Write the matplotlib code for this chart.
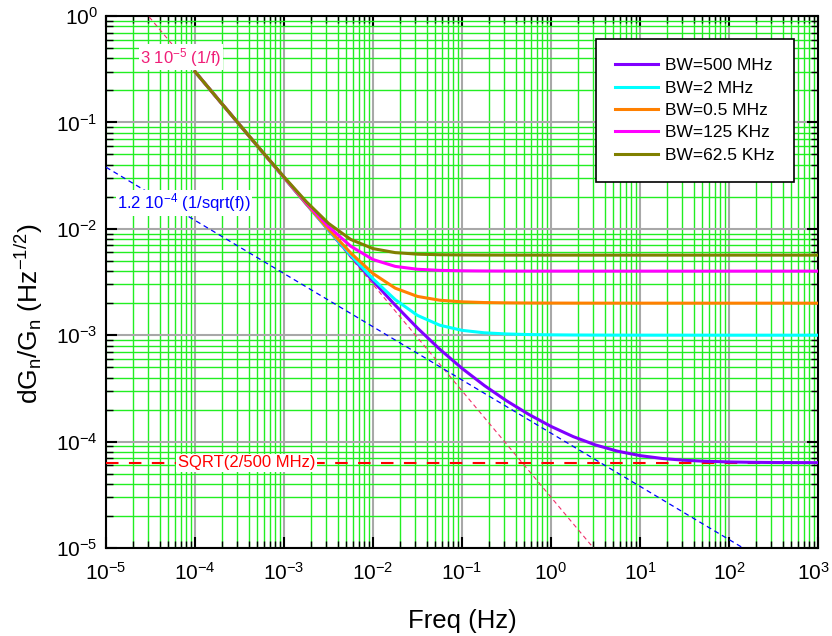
import matplotlib
matplotlib.use("Agg")
import matplotlib.pyplot as plt
from matplotlib.ticker import LogLocator, NullFormatter

plt.rcParams['font.family'] = ['Liberation Sans', 'DejaVu Sans']
plt.rcParams['mathtext.fontset'] = 'custom'
plt.rcParams['mathtext.rm'] = 'Liberation Sans'
plt.rcParams['mathtext.it'] = 'Liberation Sans'
plt.rcParams['mathtext.default'] = 'regular'

# ---- data ----
freq = [1e-4, 1.778e-4, 3.162e-4, 5.623e-4, 1e-3, 1.778e-3, 3.162e-3, 5.623e-3,
        1e-2, 1.778e-2, 3.162e-2, 5.623e-2, 1e-1, 1.778e-1, 3.162e-1, 5.623e-1,
        1e0, 1.778e0, 3.162e0, 5.623e0, 1e1, 1.778e1, 3.162e1, 5.623e1,
        1e2, 1.778e2, 3.162e2, 5.623e2, 1e3]

bw_500mhz = [0.30024, 0.16894, 0.09511, 0.053588, 0.030239, 0.017109, 0.0097241, 0.0055700,
             0.0032317, 0.0019131, 0.0011659, 7.380e-4, 4.879e-4, 3.3684e-4, 2.4195e-4, 1.8016e-4,
             1.3892e-4, 1.1129e-4, 9.297e-5, 8.117e-5, 7.382e-5, 6.937e-5, 6.675e-5, 6.524e-5,
             6.437e-5, 6.388e-5, 6.360e-5, 6.345e-5, 6.336e-5]
bw_2mhz = [0.30024, 0.16894, 0.095113, 0.053597, 0.030256, 0.017138, 0.0097752, 0.0056587,
           0.0033823, 0.0021578, 0.0015347, 0.0012412, 0.0011109, 0.0010533, 0.0010269, 0.0010141,
           0.0010076, 0.0010042, 0.0010023, 0.0010013, 0.0010007, 0.0010004, 0.0010002, 0.0010001,
           0.0010001, 0.0010000, 0.0010000, 0.0010000, 0.0010000]
bw_05mhz = [0.30025, 0.16895, 0.095129, 0.053625, 0.030305, 0.017225, 0.0099274, 0.0059178,
            0.0038000, 0.0027669, 0.0023142, 0.0021309, 0.0020577, 0.0020272, 0.0020136, 0.0020071,
            0.0020038, 0.0020021, 0.0020011, 0.0020006, 0.0020004, 0.0020002, 0.0020001, 0.0020001,
            0.0020000, 0.0020000, 0.0020000, 0.0020000, 0.0020000]
bw_125khz = [0.30027, 0.16899, 0.095192, 0.053737, 0.030503, 0.017570, 0.010514, 0.0068572,
             0.0051420, 0.0044335, 0.0041660, 0.0040670, 0.0040291, 0.0040137, 0.0040068, 0.0040035,
             0.0040019, 0.0040010, 0.0040006, 0.0040003, 0.0040002, 0.0040001, 0.0040001, 0.0040000,
             0.0040000, 0.0040000, 0.0040000, 0.0040000, 0.0040000]
bw_625khz = [0.30029, 0.16904, 0.095276, 0.053885, 0.030764, 0.018019, 0.011250, 0.0079386,
             0.0065146, 0.0059713, 0.0057754, 0.0057044, 0.0056776, 0.0056665, 0.0056617, 0.0056594,
             0.0056582, 0.0056576, 0.0056572, 0.0056571, 0.0056570, 0.0056570, 0.0056570, 0.0056570,
             0.0056570, 0.0056570, 0.0056570, 0.0056570, 0.0056570]

series_labels = ['BW=500 MHz', 'BW=2 MHz', 'BW=0.5 MHz', 'BW=125 KHz', 'BW=62.5 KHz']
series_colors = ['#8000FF', '#00FFFF', '#FF8000', '#FF00FF', '#808000']
series_values = [bw_500mhz, bw_2mhz, bw_05mhz, bw_125khz, bw_625khz]

x_ticks = [1e-5, 1e-4, 1e-3, 1e-2, 1e-1, 1e0, 1e1, 1e2, 1e3]
x_tick_labels = ['$10^{-5}$', '$10^{-4}$', '$10^{-3}$', '$10^{-2}$', '$10^{-1}$',
                 '$10^{0}$', '$10^{1}$', '$10^{2}$', '$10^{3}$']
y_ticks = [1e-5, 1e-4, 1e-3, 1e-2, 1e-1, 1e0]
y_tick_labels = ['$10^{-5}$', '$10^{-4}$', '$10^{-3}$', '$10^{-2}$', '$10^{-1}$', '$10^{0}$']

# reference lines
inv_f_x = [1e-5, 1e3]
inv_f_y = [3.0, 3e-8]             # 3e-5 / f
inv_sqrt_x = [1e-5, 1e3]
inv_sqrt_y = [0.03795, 3.795e-6]  # 1.2e-4 / sqrt(f)
floor_x = [1e-5, 1e3]
floor_y = [6.3246e-5, 6.3246e-5]  # sqrt(2/500 MHz)

fig = plt.figure(figsize=(8.32, 6.36), dpi=100)
ax = fig.add_axes([0.1274, 0.1384, 0.8558, 0.8364])
ax.set_xscale('log')
ax.set_yscale('log')

ax.set_xticks(x_ticks)
# last x label is drawn separately, nudged left so it stays inside the figure
ax.set_xticklabels(x_tick_labels[:-1] + [''])
ax.set_yticks(y_ticks)
ax.set_yticklabels(y_tick_labels)
ax.xaxis.set_minor_locator(LogLocator(base=10, subs=range(2, 10), numticks=100))
ax.yaxis.set_minor_locator(LogLocator(base=10, subs=range(2, 10), numticks=100))
ax.xaxis.set_minor_formatter(NullFormatter())
ax.yaxis.set_minor_formatter(NullFormatter())
ax.set_xlim(1e-5, 1e3)
ax.set_ylim(1e-5, 1)

ax.grid(True, which='minor', color='#22EE22', lw=1.0, zorder=0)
ax.grid(True, which='major', color='#A8A8A8', lw=1.5, zorder=0)
ax.set_axisbelow(True)

ax.tick_params(which='both', direction='in', top=True, right=True, colors='black')
ax.tick_params(which='major', length=8, width=1.5, labelsize=15)
ax.tick_params(which='minor', length=5, width=1.0)
ax.tick_params(axis='x', which='major', pad=10)
ax.tick_params(axis='y', which='major', pad=6)
for s in ax.spines.values():
    s.set_linewidth(1.5)
    s.set_color('black')

ax.annotate(x_tick_labels[-1], xy=(x_ticks[-1], 0), xycoords=('data', 'axes fraction'),
            xytext=(12, -13.9), textcoords='offset pixels', ha='right', va='top',
            fontsize=15, annotation_clip=False)

# dashed reference lines
ax.plot(inv_f_x, inv_f_y, ls=(0, (4, 3)), color='#F0306A', lw=0.8, zorder=3)
ax.plot(inv_sqrt_x, inv_sqrt_y, ls=(0, (4, 3)), color='#0000FF', lw=0.9, zorder=3)
ax.plot(floor_x, floor_y, ls=(0, (6, 5)), color='#FF0000', lw=1.5, zorder=3)

for vals, lab, col in zip(series_values, series_labels, series_colors):
    ax.plot(freq, vals, color=col, lw=2.2, label=lab, zorder=4)

ax.text(2.4e-5, 0.41, '3 10$^{-5}$ (1/f)', color='#F01E78', fontsize=12,
        va='center', ha='left', zorder=5,
        bbox=dict(facecolor='white', edgecolor='none', pad=1))
ax.text(1.33e-5, 0.0175, '1.2 10$^{-4}$ (1/sqrt(f))', color='#0000FF', fontsize=12,
        va='center', ha='left', zorder=5,
        bbox=dict(facecolor='white', edgecolor='none', pad=1))
ax.text(6.4e-5, 6.3246e-5, 'SQRT(2/500 MHz)', color='#FF0000', fontsize=12,
        va='center', ha='left', zorder=5,
        bbox=dict(facecolor='white', edgecolor='none', pad=1))

leg = ax.legend(loc='upper left', bbox_to_anchor=(0.688, 0.957), borderaxespad=0,
                fontsize=12.5, frameon=True, fancybox=False, edgecolor='black',
                framealpha=1, handlelength=2.5, labelspacing=0.42, borderpad=1.1,
                handletextpad=0.4)
leg.get_frame().set_linewidth(1.2)
leg.set_zorder(6)

ax.set_xlabel('Freq (Hz)', fontsize=18.5, labelpad=18)
ax.set_ylabel('dG$_n$/G$_n$ (Hz$^{-1/2}$)', fontsize=19)
ax.yaxis.set_label_coords(-0.085, 0.44)

fig.savefig('out.png', dpi=100)
